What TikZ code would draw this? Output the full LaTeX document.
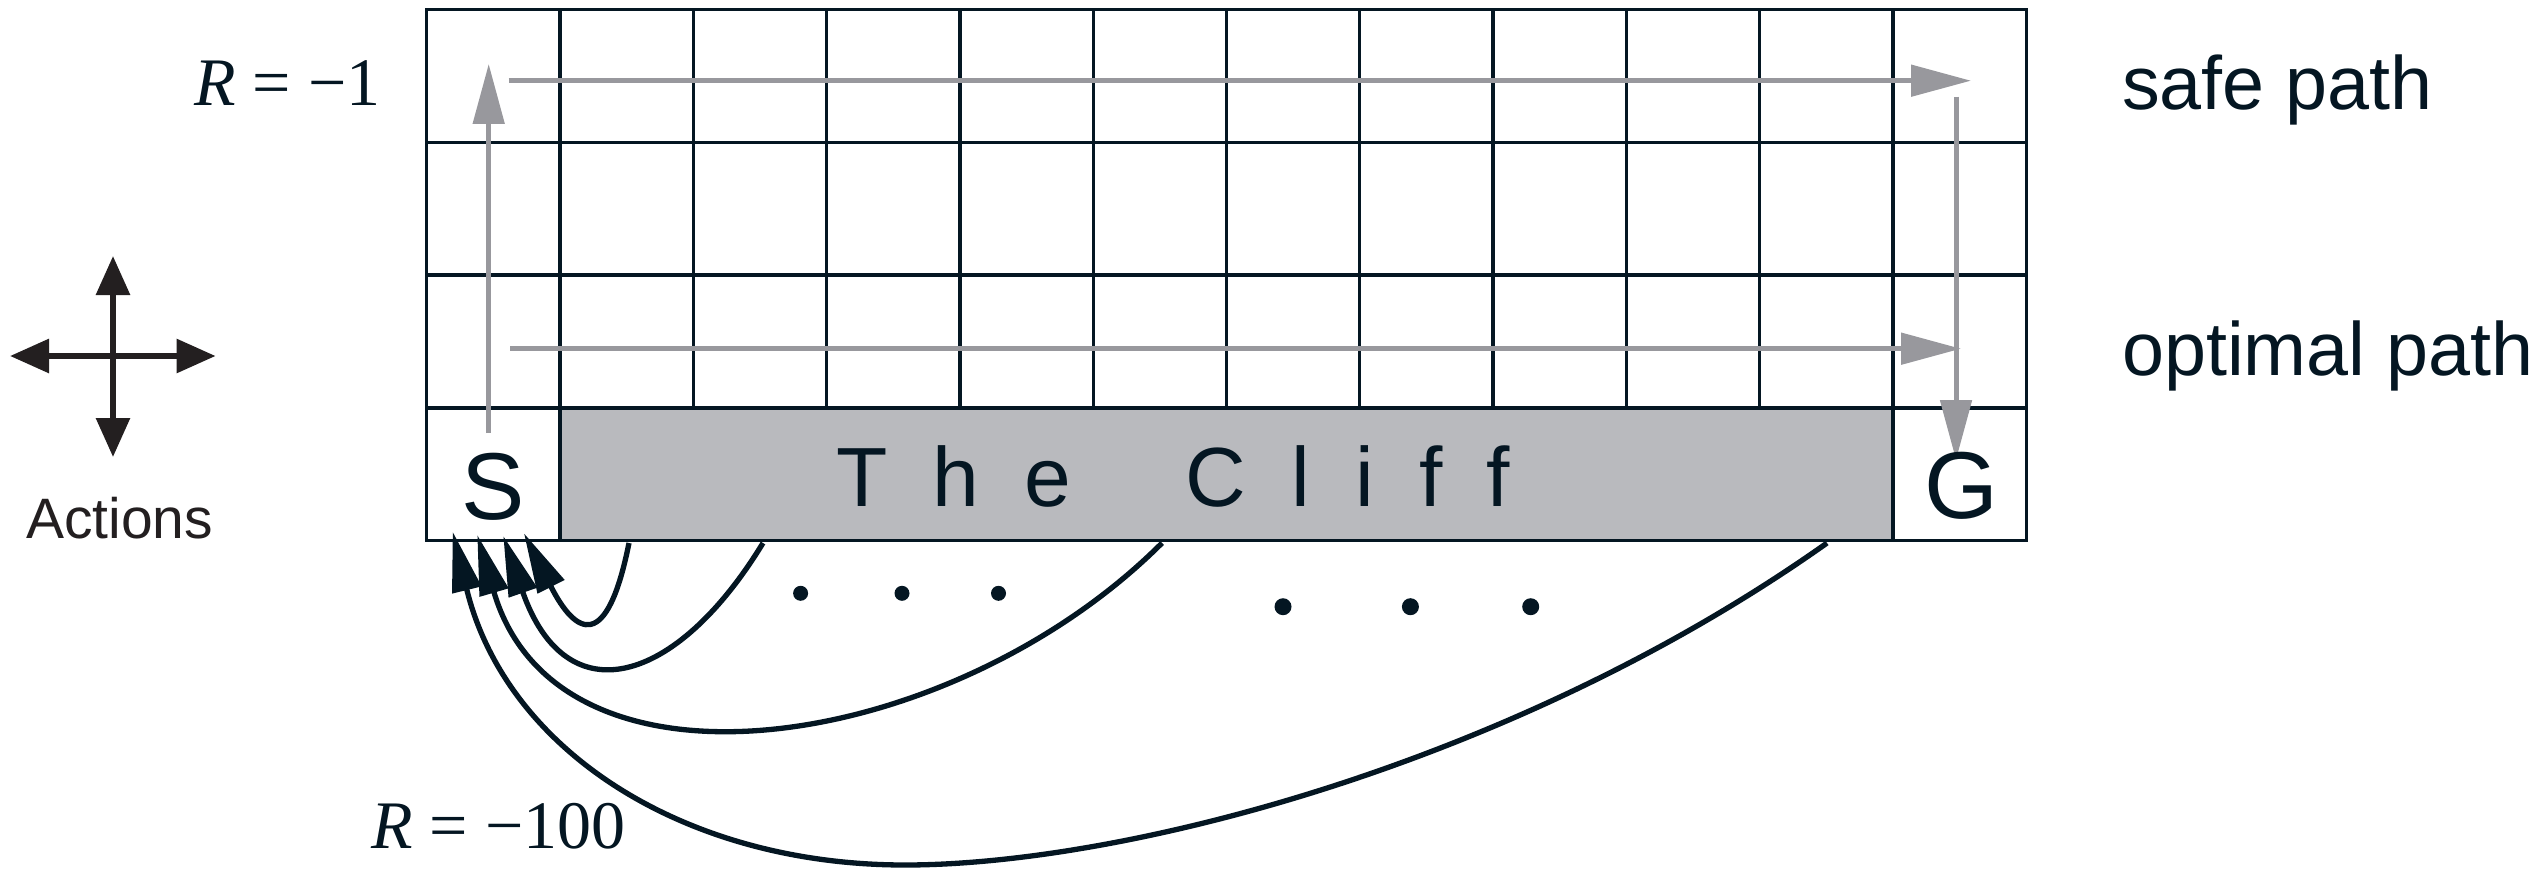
\documentclass[tikz,border=0pt]{standalone}
\usepackage{fontspec}
\setmainfont{Liberation Sans}
\newfontfamily\seriffont{Liberation Serif}
\newfontfamily\clifffont{Liberation Sans}[LetterSpace=54]
\usetikzlibrary{arrows.meta}
\definecolor{navy}{RGB}{4,22,34}
\definecolor{pathgray}{RGB}{152,152,157}
\definecolor{cliffgray}{RGB}{185,186,190}
\definecolor{ink}{RGB}{35,31,32}
\begin{document}
\begin{tikzpicture}[x=1pt,y=-1pt,
  gridline/.style={draw=navy,line width=3.3pt},
  patharrow/.style={draw=pathgray,line width=5pt,-{Triangle[length=60pt,width=31pt]}},
  fallarrow/.style={draw=navy,line width=5.3pt,-{Triangle[length=60pt,width=29pt]}},
  actarrow/.style={draw=ink,line width=6pt,{Triangle[length=39pt,width=33pt]}-{Triangle[length=39pt,width=33pt]}},
  lbl/.style={inner sep=0pt,text=navy},
  dotmark/.style={fill=navy}]
\useasboundingbox (0,0) rectangle (2542,872);
% the cliff
\fill[cliffgray] (559.9,407.9) rectangle (1893.1,540.7);
% grid lines
\foreach \i in {1,2,3}
  \draw[gridline] (426.7,9.5+\i*132.8) -- (2026.3,9.5+\i*132.8);
\foreach \j in {1,...,11}
  \draw[gridline] (426.7+\j*133.3,9.5) -- (426.7+\j*133.3,407.9);
\draw[gridline] (559.9,407.9) -- (559.9,540.7);
\draw[gridline] (1893.1,407.9) -- (1893.1,540.7);
\draw[gridline] (426.7,9.5) rectangle (2026.3,540.7);
% path arrows
\coordinate (safeA) at (488.7,433);
\coordinate (safeB) at (488.7,64);
\coordinate (safeC) at (508.7,80.7);
\coordinate (safeD) at (1971,80.7);
\coordinate (safeE) at (1956,96.7);
\coordinate (safeF) at (1956,460);
\coordinate (optA) at (510,348.7);
\coordinate (optB) at (1961,348.7);
\draw[patharrow] (safeA) -- (safeB);
\draw[patharrow] (safeC) -- (safeD);
\draw[patharrow] (safeE) -- (safeF);
\draw[patharrow] (optA) -- (optB);
% labels in cells
\node[lbl,anchor=base,font=\fontsize{95}{95}\selectfont] (start) at (493.5,519) {S};
\node[lbl,anchor=base,font=\fontsize{95}{95}\selectfont] (goal) at (1961,518) {G};
\node[lbl,anchor=base west,font=\clifffont\fontsize{84}{84}\selectfont] (cliff) at (836,506) {The\kern45pt\ Cliff};
% falls from the cliff
\coordinate (c1) at (629,543);
\coordinate (c2) at (763,543);
\coordinate (c3) at (1162,543);
\coordinate (c4) at (1827,543);
\coordinate (s1) at (524,533.3);
\coordinate (s2) at (503.3,536);
\coordinate (s3) at (477.3,535);
\coordinate (s4) at (452.7,531.7);
\coordinate (b4) at (905,865);
\draw[fallarrow] (c1) .. controls (607,653) and (575.8,635.7) .. (s1);
\draw[fallarrow] (c2) .. controls (676,685.8) and (566,716.5) .. (s2);
\draw[fallarrow] (c3) .. controls (952,753) and (558.5,813.4) .. (s3);
\draw[fallarrow] (c4) .. controls (1514,764.6) and (1122,865) .. (b4)
   .. controls (682,865) and (505.6,749) .. (s4);
% dots
\fill[dotmark] (800.6,593.3) circle (7.5);
\fill[dotmark] (902,593.3) circle (7.5);
\fill[dotmark] (998.5,593.3) circle (7.5);
\fill[dotmark] (1283,606.7) circle (8.5);
\fill[dotmark] (1410.4,606.7) circle (8.5);
\fill[dotmark] (1530.7,606.7) circle (8.5);
% right labels
\node[lbl,anchor=base west,font=\fontsize{75.5}{75.5}\selectfont] (safe) at (2122,109.3) {safe path};
\node[lbl,anchor=base west,font=\fontsize{75.5}{75.5}\selectfont] (opt) at (2122,375) {optimal path};
% rewards
\node[lbl,anchor=base west,font=\seriffont\fontsize{68}{68}\selectfont] (rone) at (194,106) {\textit{R} = −1};
\node[lbl,anchor=base west,font=\seriffont\fontsize{68}{68}\selectfont] (rhund) at (371,848) {\textit{R} = −100};
% actions
\coordinate (actU) at (113,256);
\coordinate (actD) at (113,457);
\coordinate (actL) at (10,356);
\coordinate (actR) at (215.6,356);
\draw[actarrow] (actD) -- (actU);
\draw[actarrow] (actL) -- (actR);
\node[inner sep=0pt,text=ink,anchor=base west,font=\fontsize{57}{57}\selectfont] (actions) at (26,538) {Actions};
\end{tikzpicture}
\end{document}
